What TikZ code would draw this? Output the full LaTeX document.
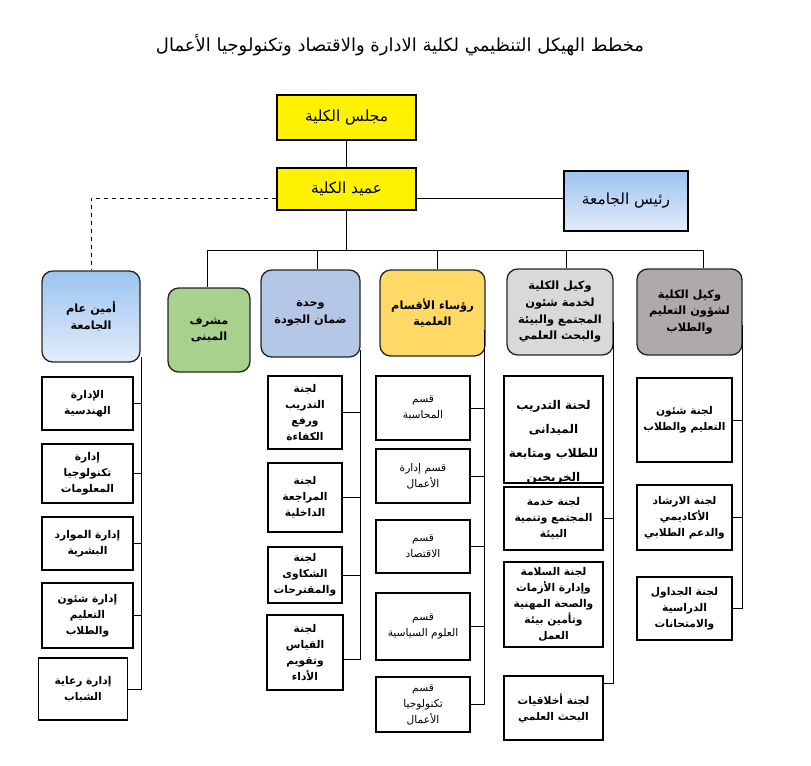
\documentclass[tikz,border=0pt]{standalone}
\usepackage{fontspec}
\newfontfamily\arabicfont[Script=Arabic]{DejaVu Sans}
\TeXXeTstate=1
\usetikzlibrary{positioning,calc}

\definecolor{headblueT}{HTML}{9DC3F0}
\definecolor{headblueB}{HTML}{E2ECFA}
\definecolor{headgreen}{HTML}{A9D18E}
\definecolor{headsteel}{HTML}{B4C7E7}
\definecolor{headgold}{HTML}{FFD966}
\definecolor{headlight}{HTML}{D9D9D9}
\definecolor{headgray}{HTML}{AEAAAA}

\newdimen\pxu \pxu=0.75pt
\newcommand{\arl}[1]{\beginR #1\endR}

\begin{document}
\begin{tikzpicture}[
  x=0.75pt, y=-0.75pt,
  ttl/.style     = {font=\arabicfont\fontsize{13.5}{16}\selectfont},
  topbox/.style  = {draw, line width=1.4pt, fill=yellow, minimum width=139\pxu,
                    font=\arabicfont\fontsize{11.5}{14}\selectfont},
  headbox/.style = {draw=black!85, line width=1pt, rounded corners=8pt,
                    align=center, inner sep=2pt,
                    font=\arabicfont\bfseries\fontsize{8.5}{12.5}\selectfont},
  subbox/.style  = {draw, line width=0.8pt, fill=white, align=center,
                    inner sep=1pt,
                    font=\arabicfont\bfseries\fontsize{8}{12}\selectfont},
  deptbox/.style = {subbox, font=\arabicfont\fontsize{8}{12}\selectfont},
  link/.style    = {line width=0.75pt},
]
\useasboundingbox (0,0) rectangle (811,765);

% ===== Title =====
\node[ttl] (title) at (400,45)
  {\beginR مخطط الهيكل التنظيمي لكلية الادارة والاقتصاد وتكنولوجيا الأعمال\endR};

% ===== Council, dean, president =====
\node[topbox, minimum height=45\pxu] (majlis) at (346.5,117.5) {\arl{مجلس الكلية}};
\node[topbox, minimum height=42\pxu] (amid)   at (346.5,189)   {\arl{عميد الكلية}};
\node[draw, line width=1.4pt, top color=headblueT, bottom color=headblueB,
      minimum width=124\pxu, minimum height=60\pxu,
      font=\arabicfont\fontsize{11.5}{14}\selectfont] (rais) at (626,201)
  {\arl{رئيس الجامعة}};

\draw[link] (majlis) -- (amid);
\coordinate (amidR) at ($(amid.east)+(0,9)$);
\coordinate (amidL) at ($(amid.west)+(0,9)$);
\draw[link] (amidR) -- (amidR -| rais.west);

% ===== Column heads =====
\node[headbox, top color=headblueT, bottom color=headblueB,
      minimum width=98\pxu, minimum height=91\pxu] (amin) at (91,316.5)
  {\arl{أمين عام}\\\arl{الجامعة}};
\node[headbox, fill=headgreen, minimum width=82\pxu, minimum height=84\pxu]
  (mushrif) at (209,330) {\arl{مشرف}\\\arl{المبنى}};
\node[headbox, fill=headsteel, minimum width=99\pxu, minimum height=87\pxu]
  (wahda) at (310.5,313.5) {\arl{وحدة}\\\arl{ضمان الجودة}};
\node[headbox, fill=headgold, minimum width=105\pxu, minimum height=86\pxu]
  (ruasa) at (432.5,313) {\arl{رؤساء الأقسام}\\\arl{العلمية}};
\node[headbox, fill=headlight, minimum width=106\pxu, minimum height=86\pxu]
  (khidma) at (560,312)
  {\arl{وكيل الكلية}\\\arl{لخدمة شئون}\\\arl{المجتمع والبيئة}\\\arl{والبحث العلمي}};
\node[headbox, fill=headgray, minimum width=105\pxu, minimum height=86\pxu]
  (taalim) at (689.5,312)
  {\arl{وكيل الكلية}\\\arl{لشؤون التعليم}\\\arl{والطلاب}};

% dean -> heads (bus)
\coordinate (busL) at (207,250);
\coordinate (busR) at (703,250);
\coordinate (dropW) at (317,250);
\coordinate (dropR) at (437,250);
\coordinate (dropK) at (566,250);
\draw[link] (amid.south) -- (amid.south |- busL);
\draw[link] (busL) -- (busR);
\draw[link] (busL) -- (busL |- mushrif.north);
\draw[link] (dropW) -- (dropW |- wahda.north);
\draw[link] (dropR) -- (dropR |- ruasa.north);
\draw[link] (dropK) -- (dropK |- khidma.north);
\draw[link] (busR) -- (busR |- taalim.north);
\draw[link, dashed] (amidL) -| (amin.north);

% ===== Secretary general column =====
\node[subbox, minimum width=91\pxu, minimum height=53\pxu] (a1) at (87.5,403.5)
  {\arl{الإدارة}\\\arl{الهندسية}};
\node[subbox, minimum width=91\pxu, minimum height=59\pxu] (a2) at (87.5,473.5)
  {\arl{إدارة}\\\arl{تكنولوجيا}\\\arl{المعلومات}};
\node[subbox, minimum width=91\pxu, minimum height=53\pxu] (a3) at (87.5,543.5)
  {\arl{إدارة الموارد}\\\arl{البشرية}};
\node[subbox, minimum width=91\pxu, minimum height=65\pxu] (a4) at (87.5,615.5)
  {\arl{إدارة شئون}\\\arl{التعليم}\\\arl{والطلاب}};
\node[subbox, minimum width=89\pxu, minimum height=62\pxu] (a5) at (83,689)
  {\arl{إدارة رعاية}\\\arl{الشباب}};
\coordinate (aminrail) at (141,357);
\draw[link] (aminrail) |- (a5.east);
\foreach \b in {a1,a2,a3,a4}
  \draw[link] (\b.east) -- (\b.east -| aminrail);

% ===== Quality unit column =====
\node[subbox, minimum width=74\pxu, minimum height=73\pxu] (w1) at (305,412.5)
  {\arl{لجنة}\\\arl{التدريب}\\\arl{ورفع}\\\arl{الكفاءة}};
\node[subbox, minimum width=74\pxu, minimum height=69\pxu] (w2) at (305,497.5)
  {\arl{لجنة}\\\arl{المراجعة}\\\arl{الداخلية}};
\node[subbox, minimum width=74\pxu, minimum height=56\pxu] (w3) at (305,575)
  {\arl{لجنة}\\\arl{الشكاوى}\\\arl{والمقترحات}};
\node[subbox, minimum width=76\pxu, minimum height=75\pxu] (w4) at (305,652.5)
  {\arl{لجنة}\\\arl{القياس}\\\arl{وتقويم}\\\arl{الأداء}};
\coordinate (wahdarail) at (360,350);
\draw[link] (wahdarail) |- ($(w4.east)+(0,7)$);
\foreach \b in {w1,w2,w3}
  \draw[link] (\b.east) -- (\b.east -| wahdarail);

% ===== Departments column =====
\node[deptbox, minimum width=94\pxu, minimum height=64\pxu] (r1) at (423,408)
  {\arl{قسم}\\\arl{المحاسبة}};
\node[deptbox, minimum width=94\pxu, minimum height=54\pxu] (r2) at (423,476)
  {\arl{قسم إدارة}\\\arl{الأعمال}};
\node[deptbox, minimum width=94\pxu, minimum height=53\pxu] (r3) at (423,546.5)
  {\arl{قسم}\\\arl{الاقتصاد}};
\node[deptbox, minimum width=94\pxu, minimum height=67\pxu] (r4) at (423,626.5)
  {\arl{قسم}\\\arl{العلوم السياسية}};
\node[deptbox, minimum width=94\pxu, minimum height=55\pxu] (r5) at (423,704.5)
  {\arl{قسم}\\\arl{تكنولوجيا}\\\arl{الأعمال}};
\coordinate (ruasarail) at (484,330);
\draw[link] (ruasarail) |- (r5.east);
\foreach \b in {r1,r2,r3,r4}
  \draw[link] (\b.east) -- (\b.east -| ruasarail);

% ===== Community service column =====
% first box: its last line runs past the frame and is cut off
\node[subbox, minimum width=99\pxu, minimum height=107\pxu,
      path picture={\node[anchor=north, align=center,
        font=\arabicfont\bfseries\fontsize{9}{18}\selectfont]
        at ($(path picture bounding box.north)+(0,12)$)
        {\beginR لحنة التدريب\endR\\\beginR الميدانى\endR\\
         \beginR للطلاب ومتابعة\endR\\\beginR الخريجين\endR};}]
  (k1) at (553.5,429.5) {};
\node[subbox, minimum width=99\pxu, minimum height=63\pxu] (k2) at (553.5,518.5)
  {\arl{لجنة خدمة}\\\arl{المجتمع وتنمية}\\\arl{البيئة}};
\node[subbox, minimum width=99\pxu, minimum height=85\pxu] (k3) at (553.5,604.5)
  {\arl{لجنة السلامة}\\\arl{وإدارة الأزمات}\\\arl{والصحة المهنية}\\\arl{وتأمين بيئة}\\\arl{العمل}};
\node[subbox, minimum width=99\pxu, minimum height=64\pxu] (k4) at (553.5,708)
  {\arl{لجنة أخلاقيات}\\\arl{البحث العلمي}};
\coordinate (khidmarail) at (613,322);
\draw[link] (khidmarail) |- ($(k4.east)+(0,-25)$);
\draw[link] ($(k1.east)+(0,-21)$) -- ($(k1.east)+(0,-21)$ -| khidmarail);
\draw[link] (k2.east) -- (k2.east -| khidmarail);
\draw[link] ($(k3.east)+(0,-17)$) -- ($(k3.east)+(0,-17)$ -| khidmarail);

% ===== Teaching affairs column =====
\node[subbox, minimum width=95\pxu, minimum height=84\pxu] (t1) at (684.5,420)
  {\arl{لجنة شئون}\\\arl{التعليم والطلاب}};
\node[subbox, minimum width=95\pxu, minimum height=65\pxu] (t2) at (684.5,517.5)
  {\arl{لجنة الارشاد}\\\arl{الأكاديمي}\\\arl{والدعم الطلابي}};
\node[subbox, minimum width=95\pxu, minimum height=63\pxu] (t3) at (684.5,608.5)
  {\arl{لجنة الجداول}\\\arl{الدراسية}\\\arl{والامتحانات}};
\coordinate (taalimrail) at (742,325);
\draw[link] (taalimrail) |- (t3.east);
\foreach \b in {t1,t2}
  \draw[link] (\b.east) -- (\b.east -| taalimrail);

\end{tikzpicture}
\end{document}
